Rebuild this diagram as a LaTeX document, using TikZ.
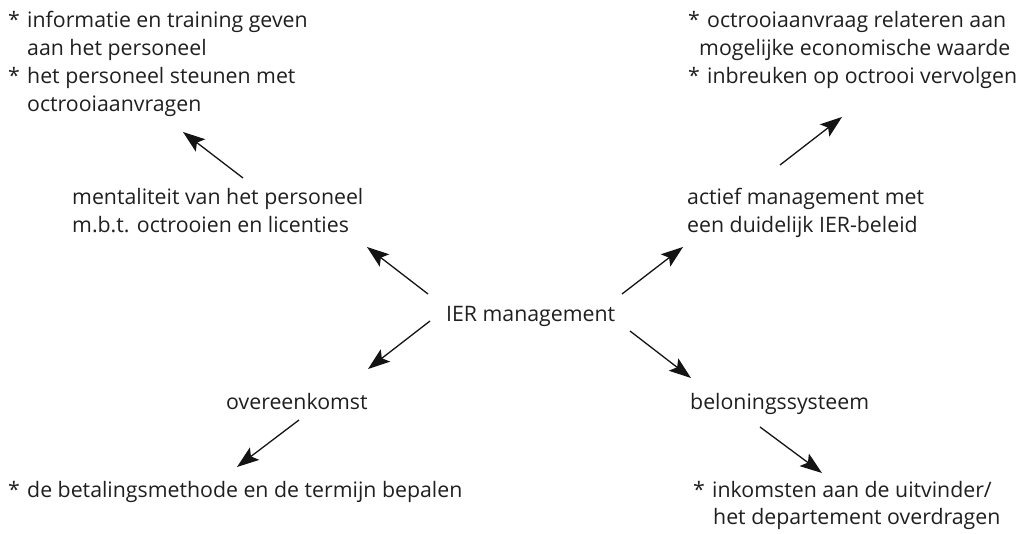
\documentclass[tikz,border=0pt]{standalone}
\usepackage{fontspec}
\setmainfont{Open Sans}
\usetikzlibrary{arrows.meta}
\newcommand{\bul}[1]{\makebox[#1][l]{*}}
\newcommand{\lines}[1]{\begin{tabular}[t]{@{}l@{}}#1\end{tabular}}
\begin{document}
\begin{tikzpicture}[x=1pt,y=-1pt,
  lbl/.style={anchor=base west,inner sep=0pt,text=black!88,
    font=\fontsize{21.3}{28}\selectfont},
  arr/.style={-{Stealth[length=22pt,width=15.5pt,inset=4.5pt]},line width=1.3pt,black!92}]
\useasboundingbox (0,0) rectangle (1034,534);
% text blocks
\node[lbl] (tl) at (8,27.5) {\lines{\bul{19pt}informatie en training geven\\
  \hspace*{19pt}aan het personeel\\
  \bul{19pt}het personeel steunen met\\
  \hspace*{19pt}octrooiaanvragen}};
\node[lbl] (ment) at (72,205) {\lines{mentaliteit van het personeel\\m.b.t. octrooien en licenties}};
\node[lbl] (ier) at (446,322) {IER management};
\node[lbl] (act) at (687,205) {\lines{actief management met\\een duidelijk IER-beleid}};
\node[lbl] (tr) at (688,27.5) {\lines{\bul{19pt}octrooiaanvraag relateren aan\\
  \hspace*{11pt}mogelijke economische waarde\\
  \bul{19pt}inbreuken op octrooi vervolgen}};
\node[lbl] (ovk) at (226,410) {overeenkomst};
\node[lbl] (bl) at (8,497) {\bul{19pt}de betalingsmethode en de termijn bepalen};
\node[lbl] (bel) at (690,410) {beloningssysteem};
\node[lbl] (br) at (693,497) {\lines{\bul{19pt}inkomsten aan de uitvinder/\\
  \hspace*{20pt}het departement overdragen}};
% arrow end points
\coordinate (a1s) at (243,178); \coordinate (a1e) at (183,132);
\coordinate (a2s) at (428,294); \coordinate (a2e) at (367,247);
\coordinate (a3s) at (622,294); \coordinate (a3e) at (683,247);
\coordinate (a4s) at (780,165); \coordinate (a4e) at (842,117);
\coordinate (a5s) at (430,321); \coordinate (a5e) at (368,369);
\coordinate (a6s) at (299,420); \coordinate (a6e) at (237,467);
\coordinate (a7s) at (630,331); \coordinate (a7e) at (691,378);
\coordinate (a8s) at (760,427); \coordinate (a8e) at (822,473);
\foreach \i in {1,...,8} \draw[arr] (a\i s) -- (a\i e);
\end{tikzpicture}
\end{document}
